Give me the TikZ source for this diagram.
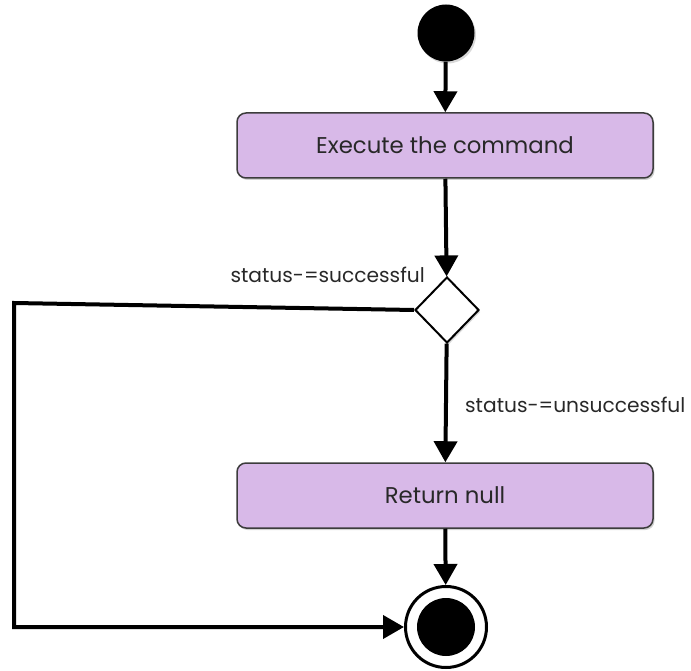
\documentclass[tikz,border=0pt]{standalone}
\usepackage{fontspec}
\setmainfont{Poppins}
\usetikzlibrary{shapes.geometric,arrows.meta,shadows}
\definecolor{boxfill}{RGB}{216,185,232}
\definecolor{boxline}{RGB}{60,60,60}
\definecolor{txt}{RGB}{40,40,40}
\begin{document}
\begin{tikzpicture}[x=1pt,y=-1pt,
  actbox/.style={rectangle, rounded corners=9pt, draw=boxline, line width=1.5pt, fill=boxfill,
    minimum width=416pt, minimum height=65pt, inner sep=0pt, text=txt, font=\fontsize{22.8}{26}\selectfont,
    drop shadow={shadow xshift=1.5pt, shadow yshift=-2pt, opacity=0.35}},
  decision/.style={diamond, draw=black, line width=2pt, fill=white, minimum width=64pt, minimum height=66pt, inner sep=0pt,
    drop shadow={shadow xshift=1.5pt, shadow yshift=-2pt, opacity=0.3}},
  flow/.style={line width=4pt, -{Triangle[width=23pt,length=21pt]}},
  lbl/.style={text=txt, font=\fontsize{20.2}{23}\selectfont, inner sep=0pt}
]
\useasboundingbox (0,0) rectangle (691,671);
\node[circle, fill=black, minimum size=57pt, inner sep=0pt,
  drop shadow={shadow xshift=1.5pt, shadow yshift=-2pt, opacity=0.3}] (start) at (446,33) {};
\node[actbox] (exec) at (445,145.5) {Execute the command};
\node[decision] (dec) at (447,310) {};
\node[actbox] (ret) at (445,495.5) {Return null};
\node[circle, draw=black, line width=3pt, fill=white, minimum size=81pt, inner sep=0pt] (end) at (446,627) {};
\node[circle, fill=black, minimum size=58pt, inner sep=0pt] (endin) at (end.center) {};
\coordinate (c1) at (14,303);
\coordinate (c2) at (14,627);
\draw[flow] (start) -- (exec);
\draw[flow] (exec) -- (dec);
\draw[flow] (dec) -- (ret);
\draw[flow] (ret) -- (end);
\draw[flow, line join=miter] (dec.west) -- (c1) -- (c2) -- (end);
\node[lbl, anchor=east] (l1) at (425,275) {status-=successful};
\node[lbl, anchor=west] (l2) at (465,405) {status-=unsuccessful};
\end{tikzpicture}
\end{document}
